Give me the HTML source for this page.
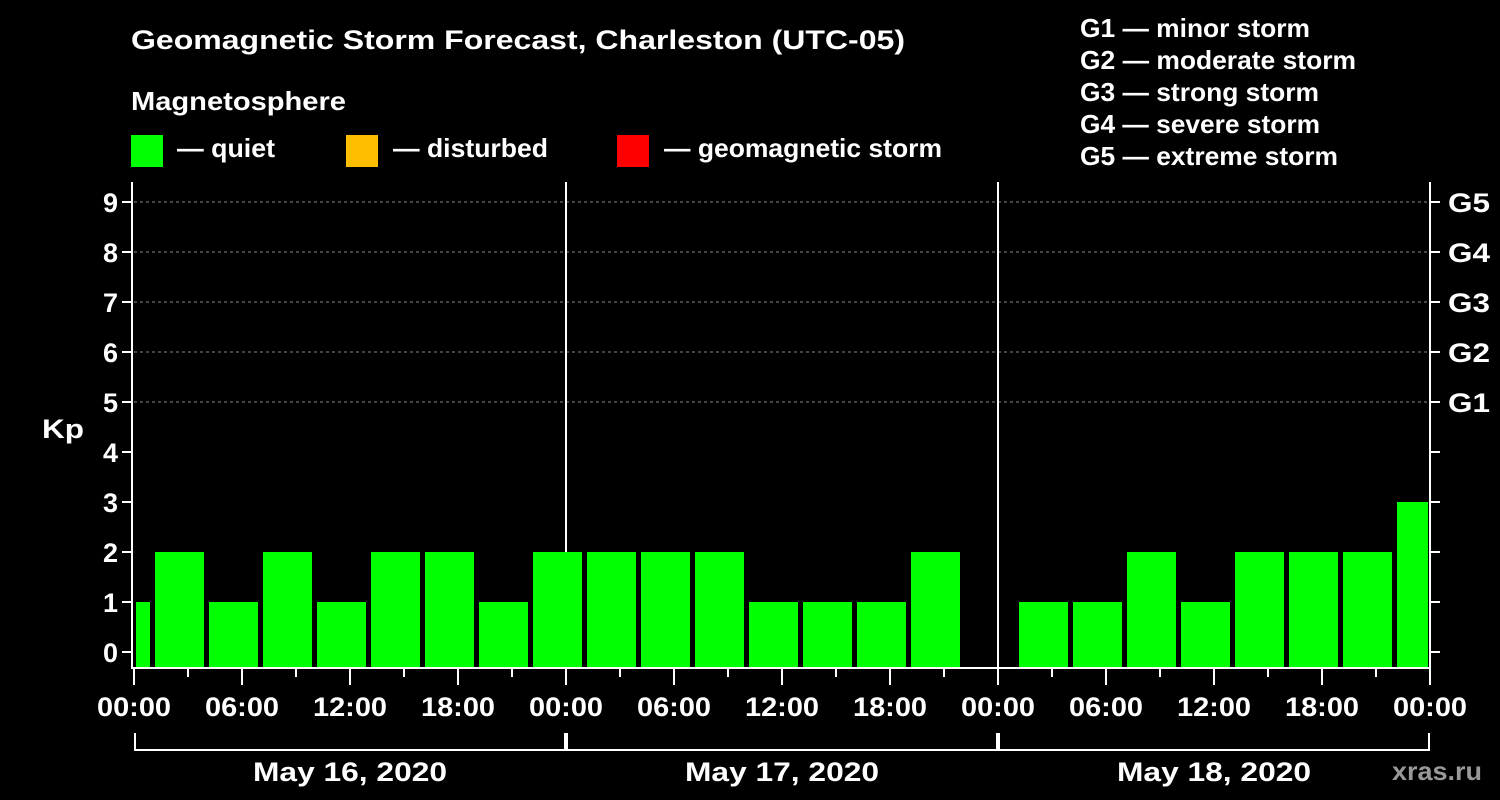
<!DOCTYPE html>
<html><head><meta charset="utf-8"><style>
body{margin:0;background:#000;width:1500px;height:800px;overflow:hidden}
svg{display:block;font-family:"Liberation Sans",sans-serif;font-weight:bold;fill:#fff}
</style></head><body>
<svg id="chart" width="1500" height="800" xmlns="http://www.w3.org/2000/svg">
<rect width="1500" height="800" fill="#000"/>
<text x="131" y="49" font-size="27" textLength="774" lengthAdjust="spacingAndGlyphs">Geomagnetic Storm Forecast, Charleston (UTC-05)</text>
<text x="131" y="110" font-size="26" textLength="215" lengthAdjust="spacingAndGlyphs">Magnetosphere</text>
<g><rect x="131" y="135" width="32" height="32" fill="#00ff00"/><text x="177" y="157" font-size="26" textLength="98" lengthAdjust="spacingAndGlyphs">— quiet</text></g>
<g><rect x="346" y="135" width="32" height="32" fill="#ffbf00"/><text x="393" y="157" font-size="26" textLength="155" lengthAdjust="spacingAndGlyphs">— disturbed</text></g>
<g><rect x="617" y="135" width="32" height="32" fill="#ff0000"/><text x="664" y="157" font-size="26" textLength="278" lengthAdjust="spacingAndGlyphs">— geomagnetic storm</text></g>
<g font-size="26">
<text x="1080" y="37" textLength="230" lengthAdjust="spacingAndGlyphs">G1 — minor storm</text>
<text x="1080" y="69" textLength="276" lengthAdjust="spacingAndGlyphs">G2 — moderate storm</text>
<text x="1080" y="101" textLength="239" lengthAdjust="spacingAndGlyphs">G3 — strong storm</text>
<text x="1080" y="133" textLength="240" lengthAdjust="spacingAndGlyphs">G4 — severe storm</text>
<text x="1080" y="165" textLength="258" lengthAdjust="spacingAndGlyphs">G5 — extreme storm</text></g>
<text x="42" y="438" font-size="27" textLength="42" lengthAdjust="spacingAndGlyphs">Kp</text>
<text x="1392" y="780" font-size="26" textLength="90" lengthAdjust="spacingAndGlyphs" style="fill:#999">xras.ru</text>
<g id="grid"></g><g id="bars"></g><g id="axes"></g>
</svg>
<script>
const kpValues=[1,2,1,2,1,2,2,1,2,2,2,2,1,1,1,2,null,1,1,2,1,2,2,2,3];
const binStartHours=[-2,1,4,7,10,13,16,19,22,25,28,31,34,37,40,43,46,49,52,55,58,61,64,67,70];
const yTicks=[0,1,2,3,4,5,6,7,8,9];
const gLabels=["G1","G2","G3","G4","G5"];
const gLevels=[5,6,7,8,9];
const xTickLabels=["00:00","06:00","12:00","18:00"];
const dayLabels=["May 16, 2020","May 17, 2020","May 18, 2020"];
const NS="http://www.w3.org/2000/svg";
const X0=134,X1=1430,TOP=182,BOT=668;
const xs=h=>X0+(h/72)*(X1-X0);
const ys=k=>652-k*50;
function mk(p,tag,a){const e=document.createElementNS(NS,tag);for(const k in a)e.setAttribute(k,a[k]);p.appendChild(e);return e;}
const grid=document.getElementById('grid'),bars=document.getElementById('bars'),axes=document.getElementById('axes');
gLevels.forEach(k=>{const l=mk(grid,'line',{x1:X0,x2:X1,y1:ys(k),y2:ys(k),stroke:'#888','stroke-dasharray':'3,3','stroke-width':1});

});
[24,48].forEach(h=>{const l=mk(grid,'line',{x1:xs(h),x2:xs(h),y1:TOP,y2:BOT,stroke:'#fff','stroke-width':2});

});
kpValues.forEach((v,i)=>{if(v===null)return;
let a=xs(binStartHours[i])+3,b=xs(binStartHours[i]+3)-2;a=Math.max(a,X0+2);b=Math.min(b,X1-2);
const r=mk(bars,'rect',{x:a,y:ys(v),width:b-a,height:BOT-ys(v),fill:v>=5?'#ff0000':(v>=4?'#ffbf00':'#00ff00')});

});
const frame=mk(axes,'polyline',{points:`${X0-2},${TOP} ${X0-2},${BOT} ${X1},${BOT} ${X1},${TOP}`,fill:'none',stroke:'#fff','stroke-width':2});


yTicks.forEach(k=>{mk(axes,'line',{x1:X0-12,x2:X0-2,y1:ys(k),y2:ys(k),stroke:'#fff','stroke-width':2});
mk(axes,'line',{x1:X1,x2:X1+10,y1:ys(k),y2:ys(k),stroke:'#fff','stroke-width':2});
const t=mk(axes,'text',{x:X0-16,y:ys(k)+10,'font-size':27,'text-anchor':'end'});t.textContent=k;

});
gLevels.forEach((k,i)=>{const t=mk(axes,'text',{x:X1+18,y:ys(k)+10,'font-size':27,textLength:42,lengthAdjust:'spacingAndGlyphs'});t.textContent=gLabels[i];

});
for(let h=0;h<=72;h+=3){const major=h%6===0;mk(axes,'line',{x1:xs(h),x2:xs(h),y1:BOT,y2:BOT+(major?17:9),stroke:'#fff','stroke-width':2});
if(major){const lbl=xTickLabels[(h%24)/6];
const t=mk(axes,'text',{x:xs(h)-37,y:716,'font-size':27,textLength:74,lengthAdjust:'spacingAndGlyphs'});t.textContent=lbl;

}}
dayLabels.forEach((d,i)=>{const a=xs(i*24)+1,b=xs(i*24+24)-1;
const p=mk(axes,'polyline',{points:`${a},733 ${a},750 ${b},750 ${b},733`,fill:'none',stroke:'#fff','stroke-width':2});


const t=mk(axes,'text',{x:(a+b)/2-97,y:781,'font-size':27,textLength:194,lengthAdjust:'spacingAndGlyphs'});t.textContent=d;

});
</script>
</body></html>
